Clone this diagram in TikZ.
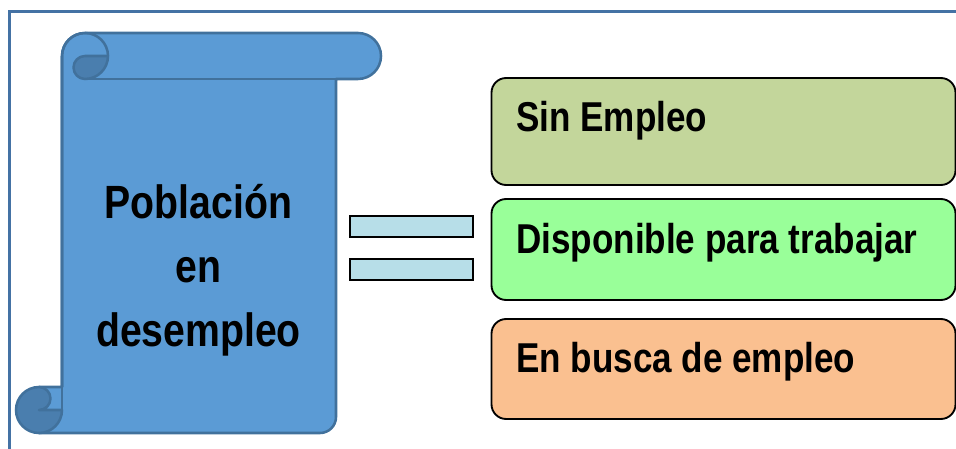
\documentclass[tikz,border=0pt]{standalone}
\usepackage{fontspec}
\setmainfont{Liberation Sans}[FakeStretch=0.84]
\definecolor{scrollblue}{HTML}{5B9BD5}
\definecolor{scrolldark}{HTML}{4A7EAE}
\definecolor{scrollline}{HTML}{41719C}
\definecolor{framecol}{HTML}{4472A4}
\definecolor{barblue}{HTML}{B7DEE8}
\definecolor{boxolive}{HTML}{C3D69B}
\definecolor{boxgreen}{HTML}{99FF99}
\definecolor{boxorange}{HTML}{FAC090}
\tikzset{
	scrollpart/.style={draw=scrollline,line width=1.9pt,line join=round},
	barbox/.style={draw=black,fill=barblue,line width=1.4pt},
	infobox/.style={draw=black,line width=1.4pt,rounded corners=11pt},
	infotext/.style={anchor=base west,inner sep=0pt,font=\bfseries\fontsize{31.3}{36}\selectfont},
	titletext/.style={anchor=base,inner sep=0pt,font=\bfseries\fontsize{35}{40}\selectfont}
}
\begin{document}
\begin{tikzpicture}[x=0.75pt,y=-0.75pt]
	\useasboundingbox (0,0) rectangle (956,449);
	% Frame
	\draw[framecol,line width=1.9pt] (9.5,449) -- (9.5,11.5) -- (956,11.5);
	% Scroll
	\draw[scrollpart,fill=scrollblue] (39,433) -- (39,387) -- (62,387) -- (62,56) arc (180:270:23)
		-- (358,33) arc (-90:90:23) -- (336,79) -- (336,417) arc (0:90:16) -- cycle;
	\draw[scrollpart] (62,387) -- (62,56) arc (180:270:23) arc (270:360:23);
	\draw[scrollpart] (85,79) -- (336,79);
	\draw[scrollpart,fill=scrolldark] (108,56) -- (85,56) arc (270:90:11.5) arc (90:0:23) -- cycle;
	\draw[scrollpart] (62,387) -- (62,410);
	\draw[scrollpart,fill=scrolldark] (39,387) arc (270:90:23) arc (90:0:23) -- (39,410) arc (90:-90:11.5) -- cycle;
	\draw[scrollpart] (39,387) -- (62,387);
	\node[titletext] (lineA) at (198.5,219) {Población};
	\node[titletext] (lineB) at (198.5,282) {en};
	\node[titletext] (lineC) at (198.5,346) {desempleo};
	% Equals sign
	\draw[barbox] (350,216) rectangle (473,237);
	\draw[barbox] (350,259) rectangle (473,280);
	% Boxes
	\draw[infobox,fill=boxolive] (491.5,78) rectangle (955.5,185);
	\draw[infobox,fill=boxgreen] (491.5,199) rectangle (955.5,300);
	\draw[infobox,fill=boxorange] (491.5,319) rectangle (955.5,419);
	\node[infotext] (sinempleo) at (516,132) {Sin Empleo};
	\node[infotext] (disponible) at (516,253) {Disponible para trabajar};
	\node[infotext] (enbusca) at (516,372) {En busca de empleo};
\end{tikzpicture}
\end{document}
